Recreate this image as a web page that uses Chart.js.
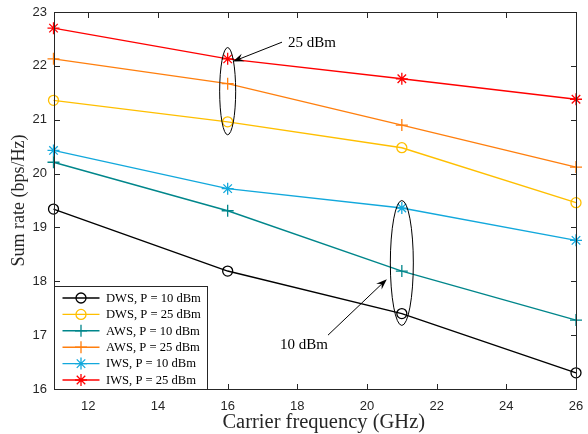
<!DOCTYPE html>
<html>
<head>
<meta charset="utf-8">
<script src="https://cdn.jsdelivr.net/npm/chart.js@4.4.1/dist/chart.umd.min.js"></script>
<style>
  html, body { margin: 0; padding: 0; background: #fff; }
</style>
</head>
<body>
<canvas id="chart" width="588" height="434"></canvas>
<script>
// ── Data ─────────────────────────────────────────────────────────────────────
const freqs  = [11, 16, 21, 26];
const dws10  = [19.34, 18.19, 17.40, 16.30];
const dws25  = [21.36, 20.96, 20.48, 19.46];
const aws10  = [20.21, 19.31, 18.19, 17.28];
const aws25  = [22.13, 21.67, 20.90, 20.12];
const iws10  = [20.43, 19.72, 19.36, 18.76];
const iws25  = [22.70, 22.13, 21.76, 21.38];

const xTicks = [12, 14, 16, 18, 20, 22, 24, 26];
const yTicks = [16, 17, 18, 19, 20, 21, 22, 23];

const seriesNames = ['DWS, P = 10 dBm', 'DWS, P = 25 dBm', 'AWS, P = 10 dBm',
                     'AWS, P = 25 dBm', 'IWS, P = 10 dBm', 'IWS, P = 25 dBm'];
const xTitle = 'Carrier frequency (GHz)';
const yTitle = 'Sum rate (bps/Hz)';

// annotations in data units
const ellipses = [
  { x: 16, y: 21.53, rx: 0.23, ry: 0.81 },
  { x: 21, y: 18.34, rx: 0.33, ry: 1.16 },
];
const arrows = [
  { from: [17.56, 22.44], to: [16.15, 22.08], label: '25 dBm', at: [17.73, 22.42] },
  { from: [18.88, 17.00], to: [20.57, 18.04], label: '10 dBm', at: [17.50, 16.82] },
];

const axisColor = '#262626';
const serif = '"Liberation Serif", "Times New Roman", serif';
const sans  = '"Liberation Sans", Arial, Helvetica, sans-serif';

// ── Datasets ────────────────────────────────────────────────────────────────
const styles = [
  { color: '#000000', marker: 'circle' },
  { color: '#FFBF00', marker: 'circle' },
  { color: '#00868B', marker: 'cross'  },
  { color: '#FF7F0E', marker: 'cross'  },
  { color: '#12A8DC', marker: 'star'   },
  { color: '#FF0000', marker: 'star'   },
];
const values = [dws10, dws25, aws10, aws25, iws10, iws25];

const datasets = values.map((vals, i) => ({
  label: seriesNames[i],
  data: freqs.map((f, k) => ({ x: f, y: vals[k] })),
  borderColor: styles[i].color,
  backgroundColor: 'rgba(0,0,0,0)',
  pointStyle: styles[i].marker,
  pointRadius: styles[i].marker === 'circle' ? 5 : 6,
  pointBorderColor: styles[i].color,
  pointBackgroundColor: 'rgba(0,0,0,0)',
  pointBorderWidth: 1.3,
  borderWidth: 1.4,
  tension: 0,
  fill: false,
  clip: false,
}));

// ── Drawing helpers ─────────────────────────────────────────────────────────
function drawFrame(chart) {
  const { ctx, chartArea: a, scales } = chart;
  const L = Math.round(a.left), R = Math.round(a.right);
  const T = Math.round(a.top),  B = Math.round(a.bottom);
  const tl = 5;
  ctx.save();
  ctx.fillStyle = axisColor;
  ctx.fillRect(L, T, R - L + 1, 1);
  ctx.fillRect(L, B, R - L + 1, 1);
  ctx.fillRect(L, T, 1, B - T + 1);
  ctx.fillRect(R, T, 1, B - T + 1);
  xTicks.forEach(v => {
    const px = Math.round(scales.x.getPixelForValue(v));
    ctx.fillRect(px, B - tl, 1, tl);
    ctx.fillRect(px, T + 1, 1, tl);
  });
  yTicks.forEach(v => {
    const py = Math.round(scales.y.getPixelForValue(v));
    ctx.fillRect(L + 1, py, tl, 1);
    ctx.fillRect(R - tl, py, tl, 1);
  });

  // x title (sits a little right of the axis centre in the original)
  ctx.font = '20.5px ' + serif;
  ctx.textAlign = 'center';
  ctx.textBaseline = 'middle';
  ctx.fillText(xTitle, (a.left + a.right) / 2 + 9, 423);
  ctx.restore();
}

function drawArrow(ctx, x0, y0, x1, y1) {
  const ang = Math.atan2(y1 - y0, x1 - x0);
  const len = 11, half = 4;
  const c = Math.cos(ang), s = Math.sin(ang);
  ctx.beginPath();
  ctx.moveTo(x0, y0);
  ctx.lineTo(x1 - c * len * 0.6, y1 - s * len * 0.6);
  ctx.stroke();
  const bx = x1 - c * len, by = y1 - s * len;
  ctx.beginPath();
  ctx.moveTo(x1, y1);
  ctx.lineTo(bx - s * half, by + c * half);
  ctx.lineTo(x1 - c * len * 0.65, y1 - s * len * 0.65);
  ctx.lineTo(bx + s * half, by - c * half);
  ctx.closePath();
  ctx.fill();
}

function drawNotes(chart) {
  const { ctx, scales: { x, y } } = chart;
  ctx.save();
  ctx.strokeStyle = '#000';
  ctx.fillStyle = '#000';
  ctx.lineWidth = 1;
  ellipses.forEach(e => {
    const cx = x.getPixelForValue(e.x), cy = y.getPixelForValue(e.y);
    const rx = x.getPixelForValue(e.x + e.rx) - cx;
    const ry = cy - y.getPixelForValue(e.y + e.ry);
    ctx.beginPath();
    ctx.ellipse(cx, cy, rx, ry, 0, 0, Math.PI * 2);
    ctx.stroke();
  });
  ctx.font = '15px ' + serif;
  ctx.textBaseline = 'middle';
  ctx.textAlign = 'left';
  arrows.forEach(a => {
    drawArrow(ctx, x.getPixelForValue(a.from[0]), y.getPixelForValue(a.from[1]),
                   x.getPixelForValue(a.to[0]),   y.getPixelForValue(a.to[1]));
    ctx.fillText(a.label, x.getPixelForValue(a.at[0]), y.getPixelForValue(a.at[1]));
  });
  ctx.restore();
}

function drawLegend(chart) {
  const { ctx, chartArea: a } = chart;
  const left = Math.round(a.left) + 0.5, w = 153, rowH = 16.4, h = 103;
  const top = Math.round(a.bottom) + 0.5 - h;
  ctx.save();
  ctx.fillStyle = '#fff';
  ctx.fillRect(left, top, w, h);
  ctx.strokeStyle = axisColor;
  ctx.lineWidth = 1;
  ctx.strokeRect(left, top, w, h);
  ctx.font = '12.6px ' + serif;
  ctx.textBaseline = 'middle';
  ctx.textAlign = 'left';
  chart.data.datasets.forEach((ds, i) => {
    const cy = top + 11.5 + i * rowH;
    ctx.strokeStyle = ds.borderColor;
    ctx.lineWidth = ds.borderWidth;
    ctx.beginPath();
    ctx.moveTo(left + 8, cy); ctx.lineTo(left + 45, cy);
    ctx.stroke();
    ctx.fillStyle = 'rgba(0,0,0,0)';
    ctx.lineWidth = ds.pointBorderWidth;
    Chart.helpers.drawPoint(ctx, {
      pointStyle: ds.pointStyle, radius: ds.pointRadius,
      borderWidth: ds.pointBorderWidth, rotation: 0
    }, left + 26.5, cy);
    ctx.fillStyle = '#000';
    ctx.fillText(ds.label, left + 51.5, cy + 0.5);
  });
  ctx.restore();
}

const overlay = {
  id: 'overlay',
  afterDraw(chart) {
    drawFrame(chart);
    drawNotes(chart);
    drawLegend(chart);
  }
};

// ── Chart ───────────────────────────────────────────────────────────────────
new Chart(document.getElementById('chart'), {
  type: 'line',
  data: { datasets },
  options: {
    responsive: false,
    animation: false,
    devicePixelRatio: 1,
    layout: { padding: { top: 12, right: 12, left: 0, bottom: 0 } },
    plugins: { legend: { display: false }, tooltip: { enabled: false } },
    scales: {
      x: {
        type: 'linear', min: 11, max: 26,
        afterBuildTicks: s => { s.ticks = xTicks.map(v => ({ value: v })); },
        afterFit: s => { s.height = 45; s.paddingLeft = 0; s.paddingRight = 0; },
        grid: { display: false, drawTicks: false }, border: { display: false },
        ticks: { color: axisColor, padding: 10.5, maxRotation: 0,
                 font: { family: sans, size: 13, lineHeight: 1 } },
        title: { display: false }
      },
      y: {
        type: 'linear', min: 16, max: 23,
        afterBuildTicks: s => { s.ticks = yTicks.map(v => ({ value: v })); },
        afterFit: s => { s.width = 53.5; s.paddingTop = 0; s.paddingBottom = 0; },
        grid: { display: false, drawTicks: false }, border: { display: false },
        ticks: { color: axisColor, padding: 6.5,
                 font: { family: sans, size: 13, lineHeight: 1 } },
        title: { display: true, text: yTitle, color: axisColor,
                 padding: { top: 10, bottom: 0 },
                 font: { family: serif, size: 18, lineHeight: 1 } }
      }
    }
  },
  plugins: [overlay]
});
</script>
</body>
</html>
